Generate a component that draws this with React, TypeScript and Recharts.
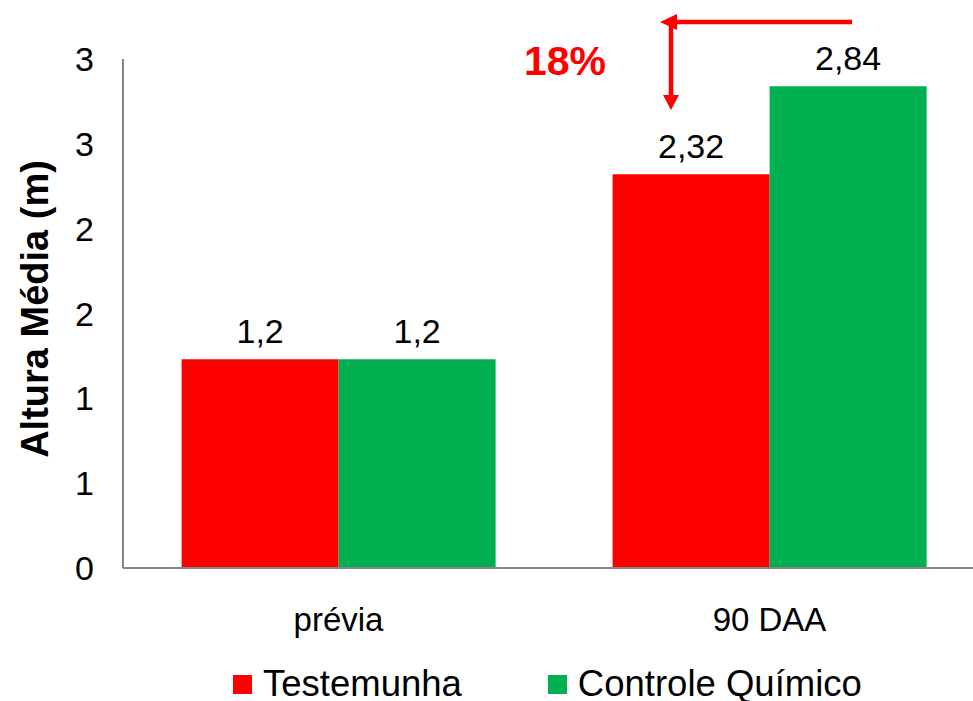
import { BarChart, Bar, XAxis, YAxis, LabelList } from 'recharts'

const categories = ['prévia', '90 DAA']
const testemunha = [1.23, 2.32]
const controle = [1.23, 2.84]
const testemunhaLabels = ['1,2', '2,32']
const controleLabels = ['1,2', '2,84']
const yTicks = [0, 0.5, 1, 1.5, 2, 2.5, 3]
const yTickLabels = ['0', '1', '1', '2', '2', '3', '3']

const series = [
  { key: 'testemunha', labelKey: 'testemunhaLabel', name: 'Testemunha', fill: '#FF0000' },
  { key: 'controle', labelKey: 'controleLabel', name: 'Controle Químico', fill: '#00B050' },
]

const data = categories.map((cat, i) => ({
  cat,
  testemunha: testemunha[i],
  controle: controle[i],
  testemunhaLabel: testemunhaLabels[i],
  controleLabel: controleLabels[i],
}))

const FONT = '"Liberation Sans", Arial, sans-serif'

export default function App() {
  return (
    <div
      style={{
        position: 'absolute',
        left: 0,
        top: 0,
        width: 973,
        height: 701,
        overflow: 'hidden',
        background: '#fff',
        fontFamily: FONT,
      }}
    >
      <BarChart
        width={990}
        height={650}
        data={data}
        margin={{ top: 59, right: 5, bottom: 0, left: 0 }}
        barCategoryGap="13.6%"
        barGap={0}
        style={{ fontFamily: FONT }}
      >
        <XAxis
          dataKey="cat"
          height={82}
          tickLine={false}
          tickSize={0}
          tickMargin={40}
          axisLine={{ stroke: '#868686', strokeWidth: 2 }}
          tick={{ fill: '#000', fontSize: 33 }}
        />
        <YAxis
          width={123}
          domain={[0, 3]}
          ticks={yTicks}
          interval={0}
          tickFormatter={(v: number) => yTickLabels[yTicks.indexOf(v)] ?? String(v)}
          tickLine={false}
          tickSize={0}
          tickMargin={29}
          axisLine={{ stroke: '#868686', strokeWidth: 2 }}
          tick={{ fill: '#000', fontSize: 34 }}
        />
        {series.map((s) => (
          <Bar key={s.key} dataKey={s.key} name={s.name} fill={s.fill} isAnimationActive={false}>
            <LabelList dataKey={s.labelKey} position="top" offset={16} fill="#000" fontSize={34} />
          </Bar>
        ))}
      </BarChart>

      {/* annotation: axis title, arrows and percentage */}
      <svg
        width={973}
        height={701}
        style={{ position: 'absolute', left: 0, top: 0, pointerEvents: 'none' }}
      >
        <text
          x={48}
          y={309}
          transform="rotate(-90 48 309)"
          textAnchor="middle"
          fontSize={38}
          fontWeight="bold"
          fill="#000"
          fontFamily={FONT}
        >
          Altura Média (m)
        </text>
        <line x1={852} y1={22} x2={672} y2={22} stroke="#FF0000" strokeWidth={4.5} />
        <polygon points="660,22 677,14 677,30" fill="#FF0000" />
        <line x1={671} y1={20} x2={671} y2={97} stroke="#FF0000" strokeWidth={4.5} />
        <polygon points="671,110 663,95 679,95" fill="#FF0000" />
        <text x={565} y={75} textAnchor="middle" fontSize={41} fontWeight="bold" fill="#FF0000" fontFamily={FONT}>
          18%
        </text>
      </svg>

      {/* legend */}
      <div
        style={{
          position: 'absolute',
          left: 233,
          top: 669,
          display: 'flex',
          alignItems: 'flex-start',
          fontSize: 36.5,
          lineHeight: '30px',
          color: '#000',
          whiteSpace: 'nowrap',
        }}
      >
        {series.map((s, i) => (
          <div key={s.key} style={{ display: 'flex', alignItems: 'flex-start', marginLeft: i === 0 ? 0 : 86 }}>
            <span style={{ display: 'inline-block', width: 19, height: 19, marginTop: 6, marginRight: 11, background: s.fill }} />
            <span>{s.name}</span>
          </div>
        ))}
      </div>
    </div>
  )
}
